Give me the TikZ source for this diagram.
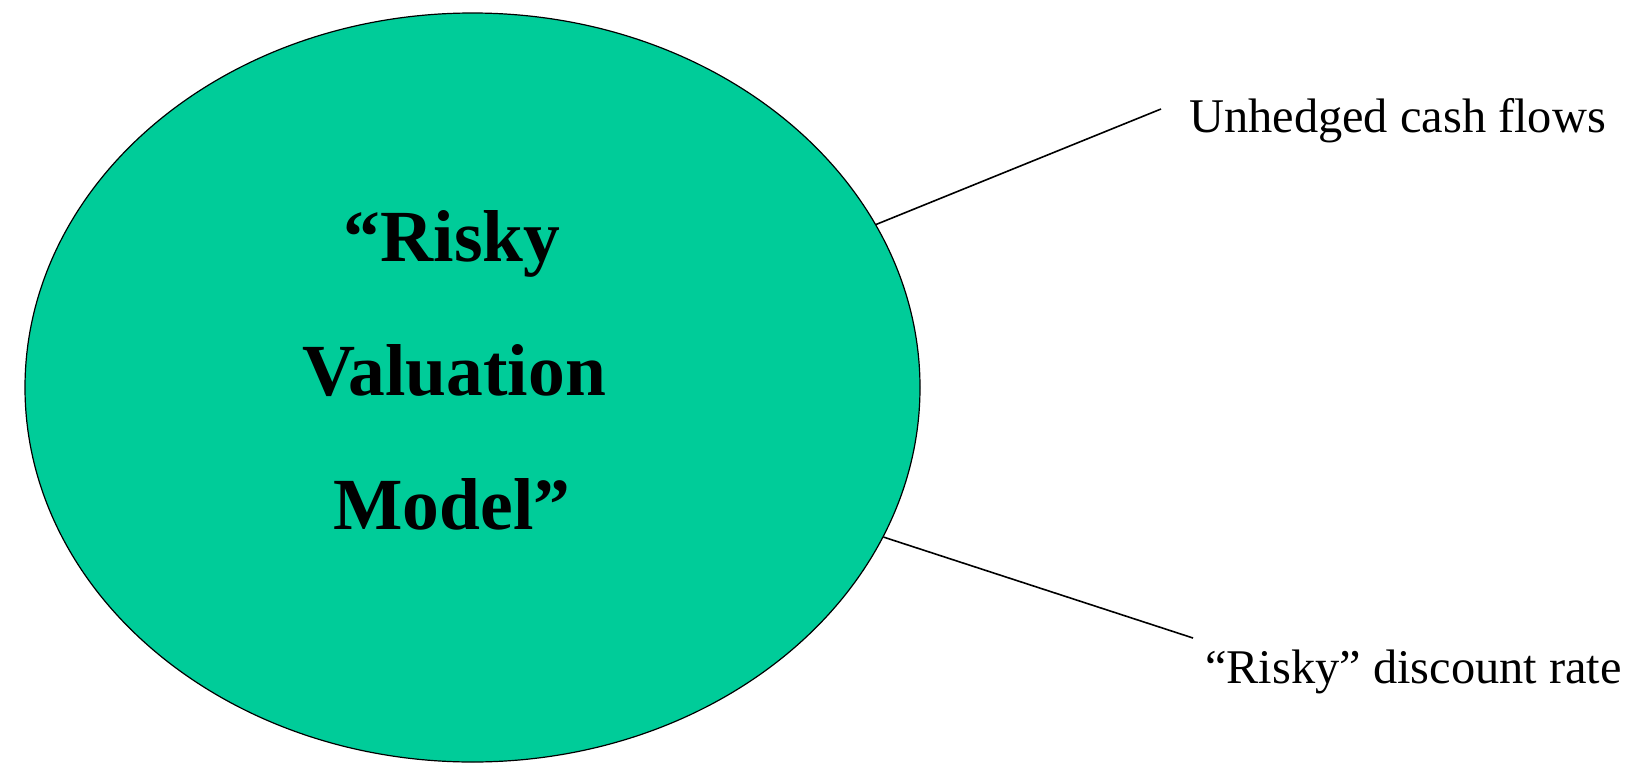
\documentclass[tikz,border=0pt]{standalone}
\usepackage{fontspec}
\setmainfont{Liberation Serif}
\usetikzlibrary{shapes.geometric}
\definecolor{modelgreen}{HTML}{00CC99}
\tikzset{
  modelell/.style={ellipse, draw=black, line width=1.2pt, fill=modelgreen, minimum width=895pt, minimum height=749pt, inner sep=0pt},
  bigtext/.style={font=\fontsize{73.5}{80}\selectfont\bfseries, anchor=base, inner sep=0pt},
  label/.style={font=\fontsize{48.4}{54}\selectfont, anchor=base west, inner sep=0pt},
  link/.style={draw=black, line width=1.6pt}
}
\begin{document}
\begin{tikzpicture}[x=1pt,y=-1pt]
\useasboundingbox (0,0) rectangle (1627,763);
\node[modelell] (ell) at (472.5,387.5) {};
\node[bigtext] (t1) at (452,261) {“Risky};
\node[bigtext] (t2) at (454,395) {Valuation};
\node[bigtext] (t3) at (452,529) {Model”};
\node[label] (l1) at (1189,132) {Unhedged cash flows};
\node[label] (l2) at (1205,683) {“Risky” discount rate};
\coordinate (c1) at (1161,109);
\coordinate (c2) at (1193,638);
\draw[link] (ell.22.7) -- (c1);
\draw[link] (ell.-20.4) -- (c2);
\end{tikzpicture}
\end{document}
